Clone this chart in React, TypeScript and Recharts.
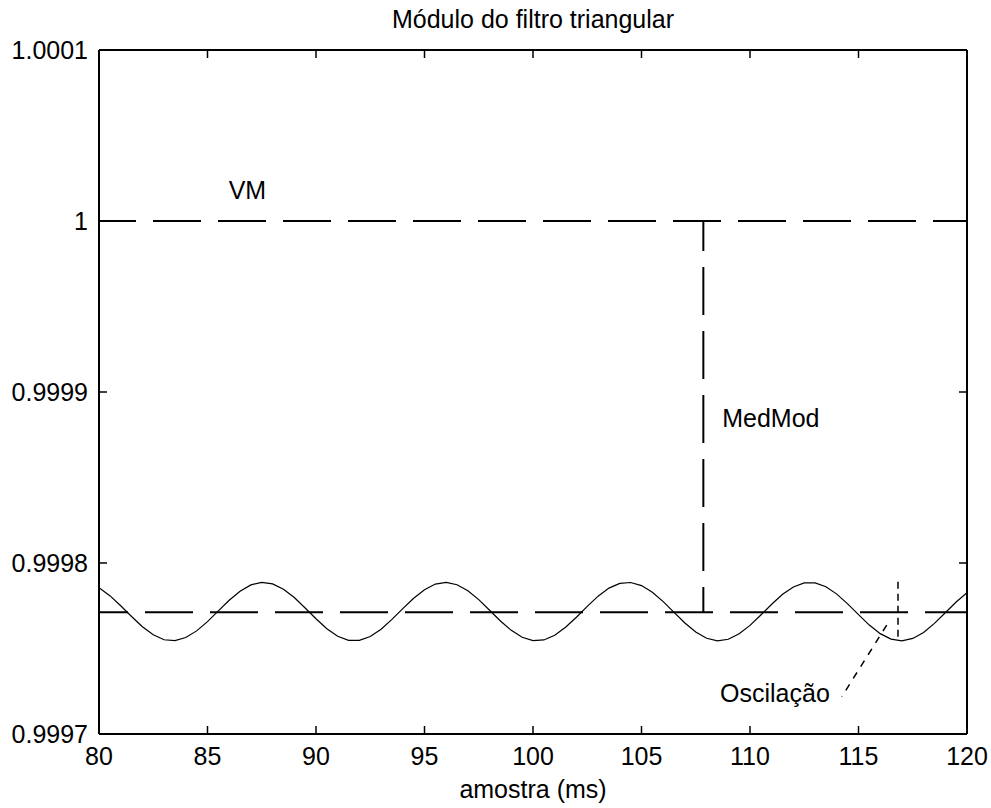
import React from 'react'
import { LineChart, Line, XAxis, YAxis, ReferenceLine, ReferenceDot } from 'recharts'

// sample instants (ms) and filter module
const sampleTimes = [
  80, 80.5, 81, 81.5, 82, 82.5, 83, 83.5, 84, 84.5, 85, 85.5, 86, 86.5, 87, 87.5,
  88, 88.5, 89, 89.5, 90, 90.5, 91, 91.5, 92, 92.5, 93, 93.5, 94, 94.5, 95, 95.5,
  96, 96.5, 97, 97.5, 98, 98.5, 99, 99.5, 100, 100.5, 101, 101.5, 102, 102.5, 103, 103.5,
  104, 104.5, 105, 105.5, 106, 106.5, 107, 107.5, 108, 108.5, 109, 109.5, 110, 110.5, 111, 111.5,
  112, 112.5, 113, 113.5, 114, 114.5, 115, 115.5, 116, 116.5, 117, 117.5, 118, 118.5, 119, 119.5, 120,
]
const moduleValues = [
  0.9997855, 0.9997809, 0.999775, 0.9997687, 0.9997627, 0.999758, 0.9997551, 0.9997546,
  0.9997564, 0.9997603, 0.9997657, 0.999772, 0.9997782, 0.9997835, 0.9997872, 0.9997887,
  0.9997878, 0.9997847, 0.9997798, 0.9997737, 0.9997674, 0.9997616, 0.9997572, 0.9997548,
  0.9997548, 0.999757, 0.9997613, 0.999767, 0.9997733, 0.9997794, 0.9997844, 0.9997877,
  0.9997887, 0.9997873, 0.9997838, 0.9997786, 0.9997724, 0.9997661, 0.9997606, 0.9997566,
  0.9997546, 0.999755, 0.9997577, 0.9997624, 0.9997683, 0.9997746, 0.9997806, 0.9997853,
  0.9997881, 0.9997886, 0.9997868, 0.9997829, 0.9997774, 0.9997711, 0.9997649, 0.9997596,
  0.999756, 0.9997545, 0.9997554, 0.9997586, 0.9997635, 0.9997696, 0.9997759, 0.9997817,
  0.999786, 0.9997884, 0.9997884, 0.9997861, 0.9997818, 0.9997761, 0.9997698, 0.9997637,
  0.9997587, 0.9997555, 0.9997545, 0.9997559, 0.9997594, 0.9997647, 0.9997709, 0.9997772,
  0.9997827,
]

const xTicks = [80, 85, 90, 95, 100, 105, 110, 115, 120]
const yTicks = [0.9997, 0.9998, 0.9999, 1, 1.0001]
const yTickLabels = ['0.9997', '0.9998', '0.9999', '1', '1.0001']

const vmLevel = 1
const meanLevel = 0.9997712
const medModTime = 107.85
const oscTime = 116.82
const oscTop = 0.9997891
const oscBottom = 0.999755
const arrowFrom = { x: 114.23, y: 0.9997218 }
const arrowTo = { x: 116.3, y: 0.9997637 }

const data = sampleTimes.map((t, i) => ({ t, v: moduleValues[i] }))

const fontFamily = '"Liberation Sans", Arial, sans-serif'
const font = { fontFamily, fontSize: 25, fill: '#000' }
const axisLine = { stroke: '#000', strokeWidth: 2 }
const TICK = 8
const X_GAP = 13
const Y_GAP = 11

// matlab style: ticks point into the box
const BottomTick = (props: any) => {
  const { x, y, payload } = props
  return (
    <g>
      <line x1={x} x2={x} y1={y - X_GAP} y2={y - X_GAP - TICK} stroke="#000" strokeWidth={1.5} />
      <text x={x} y={y} dy="0.71em" textAnchor="middle" fontFamily={fontFamily} fontSize={25} fill="#000">
        {payload.value}
      </text>
    </g>
  )
}

const LeftTick = (props: any) => {
  const { x, y, payload } = props
  const label = yTickLabels[yTicks.indexOf(payload.value)] ?? String(payload.value)
  return (
    <g>
      <line x1={x + Y_GAP} x2={x + Y_GAP + TICK} y1={y} y2={y} stroke="#000" strokeWidth={1.5} />
      <text x={x} y={y} dy="0.355em" textAnchor="end" fontFamily={fontFamily} fontSize={25} fill="#000">
        {label}
      </text>
    </g>
  )
}

const TopTick = (props: any) => {
  const { x, y } = props
  return <line x1={x} x2={x} y1={y} y2={y + TICK} stroke="#000" strokeWidth={1.5} />
}

const RightTick = (props: any) => {
  const { x, y } = props
  return <line x1={x} x2={x - TICK} y1={y} y2={y} stroke="#000" strokeWidth={1.5} />
}

const App = () => {
  return (
    <div style={{ position: 'absolute', left: 0, top: 0, background: '#fff' }}>
      <LineChart width={991} height={808} data={data} margin={{ top: 49, right: 23, bottom: 0, left: 0 }}>
        <XAxis
          dataKey="t" type="number" domain={[80, 120]} ticks={xTicks} allowDataOverflow interval={0}
          height={74} tickSize={0} tickMargin={X_GAP} axisLine={axisLine} tickLine={false}
          tick={BottomTick}
          label={{ value: 'amostra (ms)', position: 'insideBottom', offset: 10, ...font }}
        />
        <XAxis
          xAxisId="top" orientation="top" dataKey="t" type="number" domain={[80, 120]} ticks={xTicks}
          allowDataOverflow interval={0} height={1} tickSize={0} tickMargin={0} axisLine={axisLine}
          tickLine={false} tick={TopTick}
          label={{ value: 'Módulo do filtro triangular', position: 'top', offset: 21, ...font }}
        />
        <YAxis
          type="number" domain={[0.9997, 1.0001]} ticks={yTicks} allowDataOverflow width={99} interval={0}
          tickSize={0} tickMargin={Y_GAP} axisLine={axisLine} tickLine={false} tick={LeftTick}
        />
        <YAxis
          yAxisId="right" orientation="right" type="number" domain={[0.9997, 1.0001]} ticks={yTicks}
          allowDataOverflow interval={0} width={1} tickSize={0} tickMargin={0} axisLine={axisLine}
          tickLine={false} tick={RightTick}
        />

        <ReferenceLine
          segment={[{ x: 80, y: vmLevel }, { x: 120, y: vmLevel }]}
          stroke="#000" strokeWidth={2} strokeDasharray="48 17" strokeDashoffset={11}
        />
        <ReferenceLine
          segment={[{ x: 80, y: meanLevel }, { x: 120, y: meanLevel }]}
          stroke="#000" strokeWidth={2} strokeDasharray="48 17" strokeDashoffset={19}
        />
        <ReferenceLine
          segment={[{ x: medModTime, y: vmLevel }, { x: medModTime, y: meanLevel }]}
          stroke="#000" strokeWidth={2} strokeDasharray="48 16" strokeDashoffset={18}
        />
        <ReferenceLine
          segment={[{ x: oscTime, y: oscTop }, { x: oscTime, y: oscBottom }]}
          stroke="#000" strokeWidth={1.5} strokeDasharray="7 5"
        />
        <ReferenceLine
          segment={[arrowTo, arrowFrom]}
          stroke="#000" strokeWidth={1.5} strokeDasharray="7 7"
        />

        <Line
          type="linear" dataKey="v" stroke="#000" strokeWidth={1.2} dot={false}
          activeDot={false} isAnimationActive={false}
        />

        <ReferenceDot x={86.84} y={1.0000181} r={0} fill="none" stroke="none"
          label={{ value: 'VM', position: 'center', ...font }} />
        <ReferenceDot x={110.96} y={0.9998848} r={0} fill="none" stroke="none"
          label={{ value: 'MedMod', position: 'center', ...font }} />
        <ReferenceDot x={111.15} y={0.999724} r={0} fill="none" stroke="none"
          label={{ value: 'Oscilação', position: 'center', ...font }} />
      </LineChart>
    </div>
  )
}

export default App
